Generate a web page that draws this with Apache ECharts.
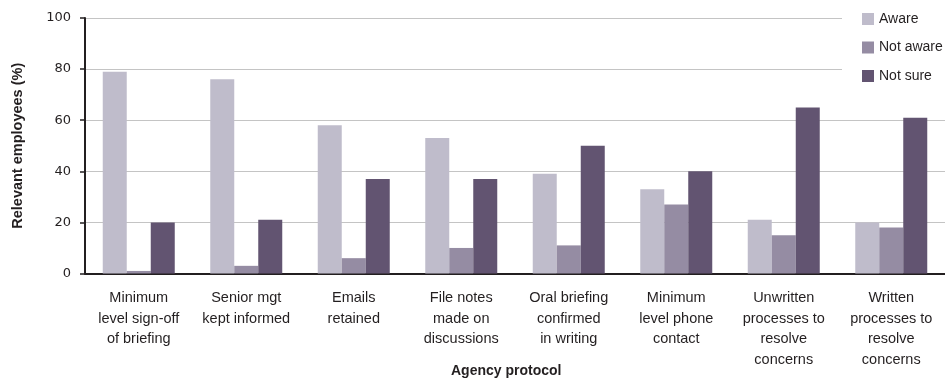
<!DOCTYPE html>
<html>
<head>
<meta charset="utf-8">
<script src="https://cdn.jsdelivr.net/npm/echarts@6/dist/echarts.min.js"></script>
<style>
  html, body { margin: 0; padding: 0; background: #ffffff; }
  #chart { width: 945px; height: 379px; }
</style>
</head>
<body>
<div id="chart"></div>
<script>
// Agency protocols on the category axis (line breaks as printed)
const categories = [
  'Minimum\nlevel sign-off\nof briefing',
  'Senior mgt\nkept informed',
  'Emails\nretained',
  'File notes\nmade on\ndiscussions',
  'Oral briefing\nconfirmed\nin writing',
  'Minimum\nlevel phone\ncontact',
  'Unwritten\nprocesses to\nresolve\nconcerns',
  'Written\nprocesses to\nresolve\nconcerns'
];

// Share of relevant employees (%) per response
const aware    = [79, 76, 58, 53, 39, 33, 21, 20];
const notAware = [1, 3, 6, 10, 11, 27, 15, 18];
const notSure  = [20, 21, 37, 37, 50, 40, 65, 61];

const yTicks = [0, 20, 40, 60, 80, 100];

const seriesNames = ['Aware', 'Not aware', 'Not sure'];
const seriesColors = ['#bfbccb', '#958ca3', '#625471'];
const seriesData = [aware, notAware, notSure];

const ink = '#231f20';
const chart = echarts.init(document.getElementById('chart'), null, { renderer: 'canvas' });

chart.setOption({
  animation: false,
  backgroundColor: '#ffffff',
  grid: { left: 85, right: 0, top: 18, bottom: 105.5, containLabel: false },
  title: {
    text: 'Agency protocol',
    left: 451,
    top: 364.5,
    padding: 0,
    textStyle: { fontFamily: 'Liberation Sans', fontSize: 14, fontWeight: 'bold', color: ink, lineHeight: 14 }
  },
  legend: {
    data: seriesNames,
    orient: 'vertical',
    left: 842,
    top: 0,
    padding: [12, 20, 10, 20],
    itemGap: 14.5,
    itemWidth: 12,
    itemHeight: 12,
    icon: 'rect',
    backgroundColor: '#ffffff',
    textStyle: { fontFamily: 'Liberation Sans', fontSize: 14, color: ink }
  },
  xAxis: {
    type: 'category',
    data: categories,
    axisLine: { show: true, lineStyle: { color: ink, width: 2 } },
    axisTick: { show: false },
    axisLabel: {
      interval: 0,
      margin: 14,
      fontFamily: 'Liberation Sans',
      fontSize: 14.5,
      lineHeight: 20.7,
      color: ink,
      align: 'center'
    }
  },
  yAxis: {
    type: 'value',
    min: yTicks[0],
    max: yTicks[yTicks.length - 1],
    interval: yTicks[1] - yTicks[0],
    name: 'Relevant employees (%)',
    nameLocation: 'middle',
    nameRotate: 90,
    nameGap: 60,
    nameTextStyle: { fontFamily: 'Liberation Sans', fontSize: 14.5, fontWeight: 'bold', color: ink },
    axisLine: { show: true, lineStyle: { color: ink, width: 2 } },
    axisTick: { show: true, length: 5, lineStyle: { color: ink, width: 1.5 } },
    axisLabel: { margin: 14, fontFamily: 'DejaVu Sans', fontSize: 13, color: ink },
    splitLine: { show: true, lineStyle: { color: '#c4c4c4', width: 1 } }
  },
  series: seriesNames.map((name, i) => ({
    name: name,
    type: 'bar',
    data: seriesData[i],
    barWidth: 24,
    barGap: '0%',
    itemStyle: { color: seriesColors[i] }
  }))
});
</script>
</body>
</html>
